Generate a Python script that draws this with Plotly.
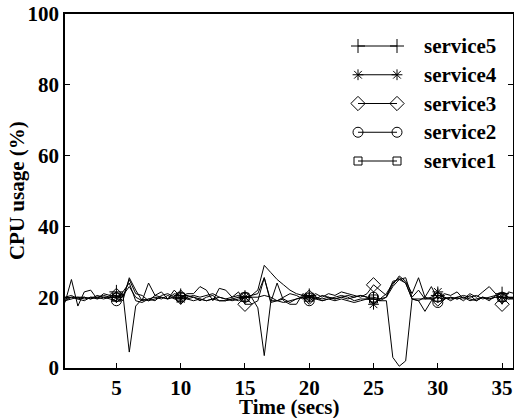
import plotly.graph_objects as go

time = [1 + 0.5 * i for i in range(71)]
marker_times = [5, 10, 15, 20, 25, 30, 35]
y_ticks = [0, 20, 40, 60, 80, 100]
x_ticks = [5, 10, 15, 20, 25, 30, 35]

service1 = [19, 19.5, 20, 19.5, 20, 20, 19.5, 20, 20, 21, 4.5, 17.5, 19.5, 19, 19.5, 20, 19.5, 20,
            20, 19.5, 19, 19.5, 19, 19.5, 19, 19, 19.5, 20, 20, 20, 17, 3.5, 18.5, 19, 19.5, 18.5,
            19.5, 20, 20, 19.5, 19, 19.5, 19, 19.5, 19, 18.5, 19, 19.5, 19.5, 19, 19, 3, 0.5, 2,
            19.5, 19.5, 19.5, 19.5, 20, 19.5, 20, 19.5, 20, 19.5, 19, 20, 19.5, 20, 20, 19.5, 19.5]
service2 = [19.5, 20, 19.5, 19, 20, 19.5, 20, 19.5, 19, 21.5, 24, 19, 18.5, 19.5, 20, 19.5, 20.5, 19.5,
            20, 20.5, 20, 19.5, 19, 19.5, 20, 19.5, 19, 19.5, 20, 20.5, 22, 29, 27, 25, 23.5, 22,
            21, 20.5, 19, 20, 19.5, 20, 19.5, 20, 19.5, 20, 20.5, 20, 20, 19.5, 21, 24, 25.5, 24,
            19.5, 19, 20, 19.5, 18.5, 19.5, 20, 19.5, 20, 19, 19.5, 20, 19.5, 20, 20, 19.5, 20]
service3 = [18.5, 25, 17.5, 21.5, 22, 19.5, 21, 20.5, 20.5, 19, 25.5, 22, 19, 24, 20.5, 21.5, 19.5, 22,
            20, 21, 21, 23, 22, 19, 22.5, 22, 20, 21.5, 18, 18, 19, 25.5, 18.5, 24, 19, 18,
            18, 21, 20, 21, 20, 21, 20.5, 21.5, 21, 20.5, 20, 21, 23.5, 22, 20.5, 23.5, 26, 24.5,
            21, 25.5, 20, 23, 19.5, 21, 20.5, 21.5, 19.5, 21, 20, 21.5, 23, 21, 18, 21.5, 21]
service4 = [20, 20.5, 19.5, 20, 19.5, 20, 20.5, 20, 20, 20.5, 23, 20, 19, 19.5, 19, 20.5, 21, 20,
            19.5, 20, 20.5, 20, 20.5, 21, 20, 19.5, 20, 20.5, 20, 20.5, 21, 25.5, 19, 19, 20, 21,
            20.5, 19.5, 20, 19.5, 20.5, 20, 19.5, 20, 20.5, 20, 20.5, 20, 18, 19.5, 20, 24.5, 25, 25.5,
            20, 22, 19.5, 20, 21.5, 20, 19.5, 20, 20.5, 20, 20.5, 19.5, 20, 20.5, 20, 20, 19.5]
service5 = [19, 20, 20, 20, 19.5, 20.5, 20, 20, 21.5, 20, 25, 21, 20.5, 19, 20.5, 20, 19.5, 21,
            20.5, 19.5, 20, 19, 20, 20.5, 19, 19, 19.5, 19, 20, 20, 20, 20.5, 20, 19, 18.5, 19,
            19.5, 20, 20.5, 20, 19, 19.5, 20, 20.5, 20, 19, 19.5, 19.5, 19.5, 19, 20, 23, 25, 24,
            19.5, 19, 16, 19, 20.5, 20, 19, 20, 19, 20.5, 19, 20, 19, 20.5, 21, 20, 20]

series = [
    ("service5", service5, "cross-thin-open", 10),
    ("service4", service4, "asterisk-open", 9),
    ("service3", service3, "diamond-open", 11),
    ("service2", service2, "circle-open", 10),
    ("service1", service1, "square-open", 8),
]

FONT = "Liberation Serif"
FS = 21
fig = go.Figure()

for name, vals, sym, size in series:
    fig.add_trace(go.Scatter(x=time, y=vals, mode="lines", line=dict(color="black", width=1),
                             showlegend=False, hoverinfo="skip"))
for name, vals, sym, size in series:
    idx = [time.index(t) for t in marker_times]
    fig.add_trace(go.Scatter(x=[time[i] for i in idx], y=[vals[i] for i in idx], mode="markers",
                             marker=dict(symbol=sym, size=size, color="black", line=dict(color="black", width=1)),
                             showlegend=False, name=name))

# legend drawn in an overlay axis whose units follow the page pixels of the plot area
leg_y0 = 46
leg_dy = 28.75
for k, (name, vals, sym, size) in enumerate(series):
    yy = leg_y0 + k * leg_dy
    fig.add_trace(go.Scatter(x=[358, 397], y=[yy, yy], mode="lines+markers", xaxis="x2", yaxis="y2",
                             line=dict(color="black", width=1),
                             marker=dict(symbol=sym, size=size, color="black", line=dict(color="black", width=1)),
                             showlegend=False, hoverinfo="skip"))
    fig.add_annotation(x=423, y=yy, xref="x2", yref="y2", text="<b>%s</b>" % name, showarrow=False,
                       xanchor="left", yanchor="middle", borderpad=0,
                       font=dict(family=FONT, size=FS, color="black"))

# axis titles
fig.add_annotation(x=0.502, y=-0.109, xref="paper", yref="paper", text="<b>Time (secs)</b>",
                   showarrow=False, xanchor="center", yanchor="middle",
                   font=dict(family=FONT, size=FS, color="black"))
fig.add_annotation(x=-0.107, y=0.50, xref="paper", yref="paper", text="<b>CPU usage (%)</b>",
                   showarrow=False, xanchor="center", yanchor="middle", textangle=-90,
                   font=dict(family=FONT, size=FS, color="black"))

fig.update_layout(
    width=514, height=418,
    margin=dict(l=65, r=1, t=14, b=50),
    paper_bgcolor="white", plot_bgcolor="white",
    font=dict(family=FONT, size=FS, color="black"),
    xaxis=dict(range=[1, 35.85], tickvals=x_ticks, ticktext=["<b>%d</b>" % v for v in x_ticks],
               ticks="inside", ticklen=5, tickcolor="black", showgrid=False, zeroline=False,
               showline=True, linecolor="black", linewidth=1.5, mirror=True, automargin=False,
               ticklabeloverflow="allow", tickfont=dict(family=FONT, size=FS)),
    yaxis=dict(range=[0, 100], tickvals=y_ticks, ticktext=["<b>%d</b>" % v for v in y_ticks],
               ticks="inside", ticklen=5, tickcolor="black", showgrid=False, zeroline=False,
               showline=True, linecolor="black", linewidth=1.5, mirror="ticks", automargin=False,
               ticklabeloverflow="allow", tickfont=dict(family=FONT, size=FS)),
    xaxis2=dict(range=[65, 513], overlaying="x", visible=False, automargin=False),
    yaxis2=dict(range=[368, 14], overlaying="y", visible=False, automargin=False),
)

fig.write_html("out.html", config={"displayModeBar": False},
               post_script="document.body.style.margin='0px';document.body.style.overflow='hidden';")
